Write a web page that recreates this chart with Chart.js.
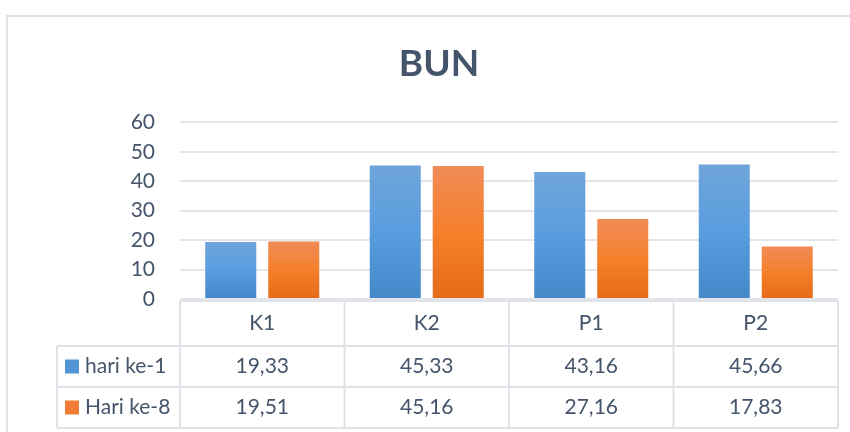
<!DOCTYPE html>
<html>
<head>
<meta charset="utf-8">
<script src="https://cdn.jsdelivr.net/npm/chart.js@4/dist/chart.umd.min.js"></script>
<style>
  body { margin: 0; background: #fff; }
  .wrap { position: relative; width: 850px; height: 432px; }
</style>
</head>
<body>
<div class="wrap"><canvas id="myChart"></canvas></div>
<script>
// data
const categories = ['K1', 'K2', 'P1', 'P2'];
const seriesNames = ['hari ke-1', 'Hari ke-8'];
const hariKe1 = [19.33, 45.33, 43.16, 45.66];
const hariKe8 = [19.51, 45.16, 27.16, 17.83];
const yTicks = [0, 10, 20, 30, 40, 50, 60];

const textColor = '#44546a';
const lineColor = '#dfe3e8';
const fontFamily = 'Lato, "Open Sans", sans-serif';

// per bar vertical gradient, like the office style fill
function barGradient(stops, flat) {
    return function (context) {
        const chart = context.chart;
        if (context.type !== 'data' || !chart.chartArea) return flat;
        const y = chart.scales.y;
        const top = y.getPixelForValue(context.raw);
        const bottom = y.getPixelForValue(0);
        if (!isFinite(top) || !isFinite(bottom) || top === bottom) return flat;
        const g = chart.ctx.createLinearGradient(0, top, 0, bottom);
        g.addColorStop(0, stops[0]);
        g.addColorStop(0.5, stops[1]);
        g.addColorStop(1, stops[2]);
        return g;
    };
}

const swatches = ['#5394d5', '#ef7d36'];

const fmt = (v) => v.toFixed(2).replace('.', ',');

// outer frame + data table under the plot
const tablePlugin = {
    id: 'dataTable',
    beforeDraw(chart) {
        const c = chart.ctx;
        c.save();
        c.strokeStyle = lineColor;
        c.lineWidth = 2;
        c.beginPath();
        c.moveTo(7, 432);
        c.lineTo(7, 16);
        c.lineTo(850, 16);
        c.stroke();
        c.restore();
    },
    afterDraw(chart) {
        const c = chart.ctx;
        const x = chart.scales.x;
        const area = chart.chartArea;
        const n = categories.length;
        const colW = (area.right - area.left) / n;
        const top = area.bottom + 2;
        const rowH = [45, 41, 41];
        const labelLeft = 57;
        const y1 = top + rowH[0];
        const y2 = y1 + rowH[1];
        const y3 = y2 + rowH[2];

        c.save();
        c.strokeStyle = lineColor;
        c.lineWidth = 2;
        c.beginPath();
        // horizontal lines
        c.moveTo(area.left, top); c.lineTo(area.right, top);
        c.moveTo(labelLeft, y1); c.lineTo(area.right, y1);
        c.moveTo(labelLeft, y2); c.lineTo(area.right, y2);
        c.moveTo(labelLeft, y3); c.lineTo(area.right, y3);
        // vertical lines
        c.moveTo(labelLeft, y1); c.lineTo(labelLeft, y3);
        for (let i = 0; i <= n; i++) {
            const xx = area.left + i * colW;
            c.moveTo(xx, top); c.lineTo(xx, y3);
        }
        c.stroke();

        c.fillStyle = textColor;
        c.font = '21px ' + fontFamily;
        c.textBaseline = 'middle';
        c.textAlign = 'center';
        categories.forEach((cat, i) => {
            const cx = x.getPixelForValue(i);
            c.fillText(cat, cx, (top + y1) / 2);
        });

        const rows = [[y1, y2], [y2, y3]];
        chart.data.datasets.forEach((ds, r) => {
            const cy = (rows[r][0] + rows[r][1]) / 2;
            c.fillStyle = swatches[r];
            c.fillRect(labelLeft + 8, cy - 7, 14, 14);
            c.fillStyle = textColor;
            c.textAlign = 'left';
            c.fillText(ds.label, labelLeft + 28, cy);
            c.textAlign = 'center';
            ds.data.forEach((v, i) => {
                c.fillText(fmt(v), x.getPixelForValue(i), cy);
            });
        });
        c.restore();
    }
};

const ctx = document.getElementById('myChart').getContext('2d');
const myChart = new Chart(ctx, {
    type: 'bar',
    data: {
        labels: categories,
        datasets: [
            {
                label: seriesNames[0],
                data: hariKe1,
                backgroundColor: barGradient(['#6fa5da', '#5a9ddf', '#4588c8'], '#5596d6'),
                borderWidth: 0,
                categoryPercentage: 0.766,
                barPercentage: 0.81
            },
            {
                label: seriesNames[1],
                data: hariKe8,
                backgroundColor: barGradient(['#f08c58', '#f57f2a', '#e56b19'], '#f07d3a'),
                borderWidth: 0,
                categoryPercentage: 0.766,
                barPercentage: 0.81
            }
        ]
    },
    options: {
        responsive: true,
        maintainAspectRatio: false,
        animation: false,
        layout: { padding: { left: 40, right: 12, top: 42, bottom: 133 } },
        plugins: {
            legend: { display: false },
            tooltip: { enabled: false },
            title: {
                display: true,
                text: 'BUN',
                color: textColor,
                font: { family: fontFamily, size: 37, weight: 'bold' },
                padding: { top: 0, bottom: 36 }
            }
        },
        scales: {
            x: {
                display: false,
                grid: { display: false }
            },
            y: {
                min: 0,
                max: 60,
                afterFit: (scale) => { scale.width = 140; },
                afterBuildTicks: (scale) => { scale.ticks = yTicks.map((v) => ({ value: v })); },
                border: { display: false },
                grid: { color: '#e2e5ea', lineWidth: 2, drawTicks: false },
                ticks: {
                    color: textColor,
                    padding: 25,
                    font: { family: fontFamily, size: 21 }
                }
            }
        }
    },
    plugins: [tablePlugin]
});
</script>
</body>
</html>
